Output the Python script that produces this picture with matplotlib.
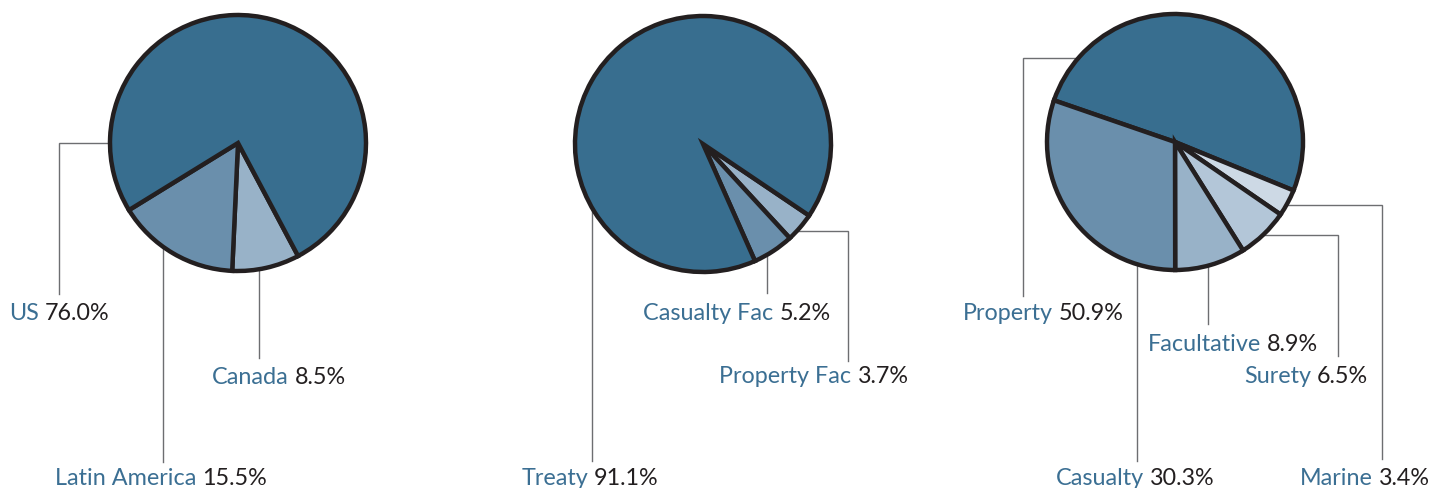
import matplotlib.pyplot as plt
import numpy as np

plt.rcParams['font.family'] = ['Lato', 'DejaVu Sans']

# data
region_names = ["Canada", "Latin America", "US"]
region_share = [8.5, 15.5, 76.0]

type_names = ["Property Fac", "Casualty Fac", "Treaty"]
type_share = [3.7, 5.2, 91.1]

line_names = ["Property", "Marine", "Surety", "Facultative", "Casualty"]
line_share = [50.9, 3.4, 6.5, 8.9, 30.3]

# colours
DARK = "#386e8f"
MED = "#6a8fac"
LIGHT = "#98b2c8"
LIGHTER = "#b3c6d8"
LIGHTEST = "#cdd9e5"
EDGE = "#231f20"
NAME_C = "#3b6f93"
LEAD_C = "#6d6e71"

W, H = 1431, 489
R = 128

fig = plt.figure(figsize=(W / 100, H / 100), dpi=100)
ax = fig.add_axes([0, 0, 1, 1])

# pie layout: center in pixels (y down), start angle, colours
pies = [
    (region_names, region_share, (238, 144), -62, [LIGHT, MED, DARK]),
    (type_names, type_share, (703, 145), -34, [LIGHT, MED, DARK]),
    (line_names, line_share, (1175, 143), 161, [DARK, LIGHTEST, LIGHTER, LIGHT, MED]),
]

# leader layout: name -> (kind, a, b, end_y, label_cx, label_cy)
#  'v': vertical line at x=a ; 'h': horizontal at y=a to x=b then down
leaders = {
    "US": ("h", 144, 59, 295, 59, 312),
    "Canada": ("v", 259, None, 359, 279, 376),
    "Latin America": ("v", 163, None, 463, 161, 477),
    "Treaty": ("v", 592, None, 462, 590, 477),
    "Casualty Fac": ("v", 767, None, 294, 737, 312),
    "Property Fac": ("h", 232, 848, 362, 814, 375),
    "Property": ("h", 59, 1023, 297, 1043, 312),
    "Casualty": ("v", 1137, None, 462, 1135, 477),
    "Facultative": ("v", 1208, None, 325, 1233, 343),
    "Surety": ("h", 236, 1338, 357, 1306, 375),
    "Marine": ("h", 206, 1382, 460, 1365, 477),
}

for names, share, (cx, cy), start, cols in pies:
    ax.pie(share, colors=cols, startangle=start, counterclock=False,
           center=(cx, H - cy), radius=R,
           wedgeprops=dict(edgecolor=EDGE, linewidth=3.2, joinstyle="miter"))

renderer = fig.canvas.get_renderer()
FS = 16.8


def text_width(s):
    t = ax.text(0, 0, s, fontsize=FS)
    w = t.get_window_extent(renderer).width
    t.remove()
    return w


space = text_width("a a") - text_width("aa")

for names, share, (cx, cy), start, cols in pies:
    for name, val in zip(names, share):
        kind, a, b, end_y, lx, ly = leaders[name]
        if kind == "v":
            x0 = a
            y0 = cy + np.sqrt(R ** 2 - (a - cx) ** 2)
            xs, ys = [x0, x0], [y0, end_y]
        else:
            side = -1 if b < cx else 1
            x0 = cx + side * np.sqrt(R ** 2 - (a - cy) ** 2)
            xs, ys = [x0, b, b], [a, a, end_y]
        ax.plot(xs, [H - y for y in ys], color=LEAD_C, lw=1.0, zorder=0,
                solid_joinstyle="miter")

        pct = f"{val:.1f}%"
        w1 = text_width(name)
        w2 = text_width(pct)
        left = lx - (w1 + space + w2) / 2
        base = H - (ly + 8.5)
        ax.text(left, base, name, fontsize=FS, color=NAME_C, va="baseline", ha="left")
        ax.text(left + w1 + space, base, pct, fontsize=FS, color=EDGE,
                va="baseline", ha="left")

ax.set_xlim(0, W)
ax.set_ylim(0, H)
ax.set_aspect("equal")
ax.axis("off")

fig.savefig("out.png", dpi=100)
